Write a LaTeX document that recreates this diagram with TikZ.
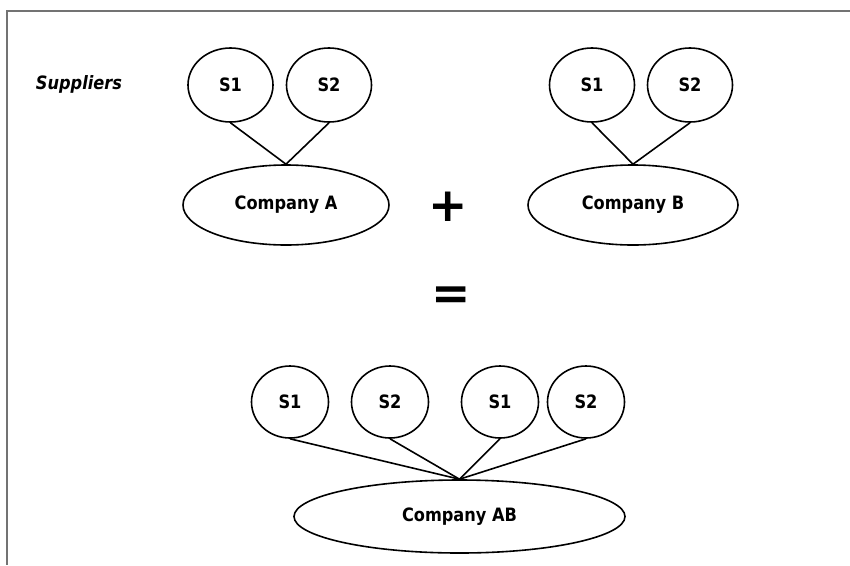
\documentclass[tikz,border=0pt]{standalone}
\usepackage{fontspec}
\setmainfont{DejaVu Sans}
\newfontfamily\tahfont{DejaVu Sans}[FakeStretch=0.88]
\usetikzlibrary{shapes.geometric}

\begin{document}
\begin{tikzpicture}[x=1pt,y=-1pt,line width=1.6pt,
  lbl/.style={font=\tahfont\bfseries\fontsize{18.4}{21}\selectfont},
  supp/.style={lbl,draw,ellipse,inner sep=0pt,minimum width=85pt,minimum height=74pt},
  suppab/.style={supp,minimum width=77pt,minimum height=72pt},
  firm/.style={lbl,draw,ellipse,inner sep=0pt,minimum width=#1,minimum height=80pt},
  sign/.style={font=\bfseries\fontsize{47}{47}\selectfont,inner sep=0pt}]
\useasboundingbox (0,0) rectangle (850,565);
% frame
\draw[black!55,line width=2pt] (850,10.5) -- (6.5,10.5) -- (6.5,565);
\node[font=\tahfont\bfseries\itshape\fontsize{18.4}{21}\selectfont] (supl) at (79,84) {Suppliers};
% company A
\node[supp] (sa1) at (230.5,85) {S1};
\node[supp] (sa2) at (329,85) {S2};
\node[firm=206pt] (ca) at (286,205) {Company A};
\draw (sa1.south) -- (ca.north);
\draw (sa2.south) -- (ca.north);
% company B
\node[supp] (sb1) at (592,85) {S1};
\node[supp] (sb2) at (690,85) {S2};
\node[firm=210pt] (cb) at (633,205) {Company B};
\draw (sb1.south) -- (cb.north);
\draw (sb2.south) -- (cb.north);
\node[sign] (plus) at (448,207) {+};
\node[sign] (eq) at (451,298) {=};
% merged
\node[suppab] (sab1) at (290,402) {S1};
\node[suppab] (sab2) at (390,402) {S2};
\node[suppab] (sab3) at (500,402) {S1};
\node[suppab] (sab4) at (586,402) {S2};
\node[firm=331pt,minimum height=73pt] (cab) at (459.5,516.5) {Company AB};
\foreach \s in {sab1,sab2,sab3,sab4}
  \draw (\s.south) -- (cab.north);
\end{tikzpicture}
\end{document}
